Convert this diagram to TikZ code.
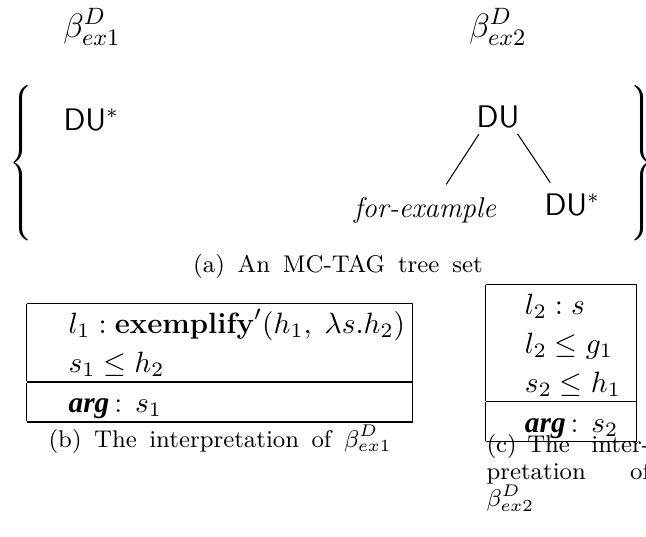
\RequirePackage{fix-cm}
\documentclass[tikz,border=0pt]{standalone}
\usepackage{amsmath}
\usepackage{fontspec}
\newfontfamily\argfont{Liberation Serif}

\newcommand{\semstrut}{\rule[-3.5pt]{0pt}{15pt}}
\newcommand{\argmark}{{\argfont\bfseries\itshape arg}}

\tikzset{
  treename/.style={inner sep=0pt, font=\fontsize{13}{15}\selectfont},
  treenode/.style={inner sep=0pt, font=\fontsize{12}{14}\selectfont\sffamily},
  treeleaf/.style={inner sep=0pt, font=\fontsize{11}{13}\selectfont\itshape},
  treeedge/.style={shorten <=13.5pt, shorten >=15pt},
  sembox/.style={inner sep=0pt, font=\fontsize{11.3}{11.6}\selectfont},
  subcap/.style={inner sep=0pt, font=\fontsize{9.3}{10.4}\selectfont}
}

\begin{document}
\begin{tikzpicture}[x=0.385pt,y=-0.385pt]
\useasboundingbox (0,0) rectangle (646,536);
% (a) tree set
\node[treename, anchor=base] (bex1) at (92,37) {$\beta^D_{ex1}$};
\node[treename, anchor=base] (bex2) at (498,37) {$\beta^D_{ex2}$};
\node[inner sep=0pt] (lbrace) at (23,163) {$\left\{\rule[-29.5pt]{0pt}{64pt}\right.$};
\node[inner sep=0pt] (rbrace) at (640,163) {$\left.\rule[-29.5pt]{0pt}{64pt}\right\}$};
\node[treenode, anchor=base west] (du1) at (63,130) {DU$^*$};
\node[treenode, anchor=base] (du2) at (498,127) {DU};
\node[treeleaf, anchor=base] (forex) at (425,217) {for-example};
\node[treenode, anchor=base west] (du3) at (544,215) {DU$^*$};
\draw[treeedge] (du2.north) -- (forex.base);
\draw[treeedge] (du2.north) -- (du3.base);
\node[subcap, anchor=base] (capa) at (338,272) {\makebox[111.5pt][s]{(a) An MC-TAG tree set}};
% (b) and (c) interpretations
\node[sembox, anchor=north west] (semb) at (26,302) {%
\begin{tabular}{|@{\hspace{16pt}}l@{\hspace{6.5pt}}|}
\hline
\semstrut\makebox[126pt][l]{$l_1 : \textbf{exemplify}'(h_1,\; \lambda s.h_2)$}\\
\semstrut$s_1 \leq h_2$\\
\hline
\semstrut\argmark\,: $s_1$\\
\hline
\end{tabular}};
\node[subcap, anchor=base] (capb) at (220,447) {\makebox[132pt][s]{(b) The interpretation of $\beta^D_{ex1}$}};
\node[sembox, anchor=north west] (semc) at (485,283) {%
\begin{tabular}{|@{\hspace{15pt}}l@{\hspace{6.5pt}}|}
\hline
\semstrut$l_2 : s$\\
\semstrut$l_2 \leq g_1$\\
\semstrut\makebox[36.6pt][l]{$s_2 \leq h_1$}\\
\hline
\semstrut\argmark\,: $s_2$\\
\hline
\end{tabular}};
\node[subcap, anchor=north west, text width=63pt, align=justify] (capc) at (486,434)
  {(c)\hspace{4pt}The inter-\linebreak pretation of\linebreak $\beta^D_{ex2}$};
\end{tikzpicture}
\end{document}
